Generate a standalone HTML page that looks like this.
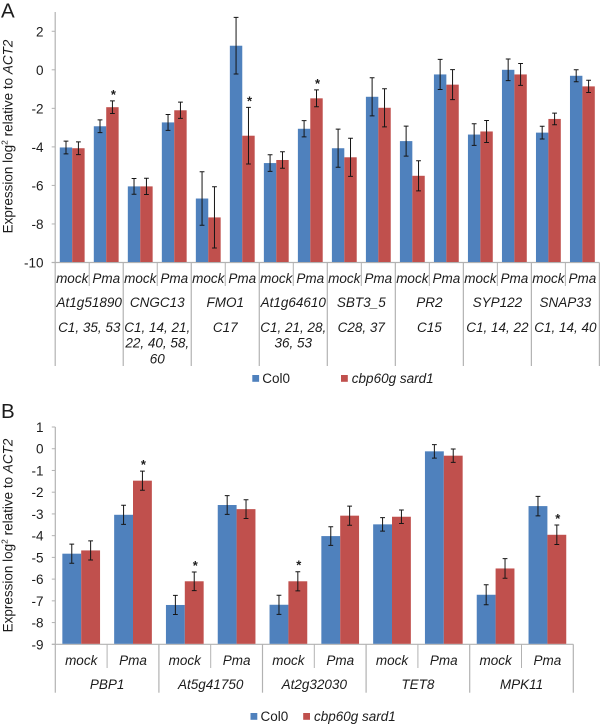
<!DOCTYPE html>
<html lang="en">
<head>
<meta charset="utf-8">
<title>Expression log2 relative to ACT2</title>
<style>
html,body{margin:0;padding:0;background:#fff;}
svg{display:block;font-family:"Liberation Sans",Arial,sans-serif;fill:#1c1c1c;}
</style>
</head>
<body>
<svg id="figure" xmlns="http://www.w3.org/2000/svg" width="600" height="724" viewBox="0 0 600 724"></svg>
<script>
// Panel A data
const genesA = ['At1g51890','CNGC13','FMO1','At1g64610','SBT3_5','PR2','SYP122','SNAP33'];
const cladesA = [['C1, 35, 53'],['C1, 14, 21,','22, 40, 58,','60'],['C17'],['C1, 21, 28,','36, 53'],['C28, 37'],['C15'],['C1, 14, 22'],['C1, 14, 40']];
const conditions = ['mock','Pma'];
const col0A = [-4.03,-2.93,-6.05,-2.73,-6.68,1.25,-4.84,-3.06,-4.07,-1.40,-3.70,-0.24,-3.36,0.00,-3.26,-0.31];
const sardA = [-4.07,-1.94,-6.05,-2.10,-7.66,-3.42,-4.68,-1.48,-4.54,-1.97,-5.50,-0.77,-3.20,-0.24,-2.55,-0.86];
const col0ErrA = [0.33,0.33,0.41,0.41,1.39,1.47,0.43,0.42,0.99,0.99,0.78,0.78,0.56,0.56,0.33,0.31];
const sardErrA = [0.33,0.33,0.42,0.42,1.59,1.47,0.43,0.44,0.99,0.99,0.78,0.78,0.57,0.57,0.30,0.32];
const starsA = [0,1,0,0,0,1,0,1,0,0,0,0,0,0,0,0];
const ticksA = [2,0,-2,-4,-6,-8,-10];

// Panel B data
const genesB = ['PBP1','At5g41750','At2g32030','TET8','MPK11'];
const cladesB = [[],[],[],[],[]];
const col0B = [-4.83,-3.04,-7.19,-2.59,-7.18,-4.02,-3.48,-0.12,-6.72,-2.64];
const sardB = [-4.68,-1.47,-6.10,-2.78,-6.10,-3.08,-3.13,-0.32,-5.51,-3.96];
const col0ErrB = [0.44,0.44,0.44,0.43,0.44,0.43,0.31,0.31,0.46,0.45];
const sardErrB = [0.44,0.44,0.43,0.43,0.44,0.44,0.31,0.31,0.45,0.45];
const starsB = [0,1,1,0,1,0,0,0,0,1];
const ticksB = [1,0,-1,-2,-3,-4,-5,-6,-7,-8,-9];

const SVGNS = 'http://www.w3.org/2000/svg';
const root = document.getElementById('figure');
const BLUE = '#4f81bd', RED = '#c0504d', AXIS = '#b2b2b2', FS = 13.5;

function mk(tag, attrs, parent) {
  const el = document.createElementNS(SVGNS, tag);
  for (const k in attrs) el.setAttribute(k, attrs[k]);
  (parent || root).appendChild(el);
  return el;
}

function drawPanel(c) {
  const g = mk('g', {});
  
  
  const n = c.col0.length;
  const catW = (c.right - c.left) / n;
  const y = v => c.bottom - (v - c.dMin) / (c.dMax - c.dMin) * (c.bottom - c.top);
  const x = i => c.left + catW * i;

  // panel letter
  const letter = mk('text', {x: 1, y: c.letterY, 'font-size': 20.5}, g);
  letter.textContent = c.id;
  
  

  // y axis title
  const title = mk('text', {transform: 'translate(' + c.titleX + ' ' + c.titleY + ') rotate(-90)', 'text-anchor': 'middle', 'font-size': FS}, g);
  
  
  mk('tspan', {}, title).textContent = 'Expression log';
  mk('tspan', {dy: -5, 'font-size': 8.5}, title).textContent = '2';
  mk('tspan', {dy: 5}, title).textContent = ' relative to ';
  mk('tspan', {'font-style': 'italic'}, title).textContent = 'ACT2';

  // y axis and ticks
  const yAxis = mk('line', {x1: c.left, x2: c.left, y1: c.top, y2: c.bottom, stroke: AXIS, 'stroke-width': 1.2}, g);
  
  
  c.ticks.forEach(t => {
    const tick = mk('line', {x1: c.left - 3.5, x2: c.left, y1: y(t), y2: y(t), stroke: AXIS, 'stroke-width': 1}, g);
    
    
    const lab = mk('text', {x: 43.5, y: y(t) + 5, 'text-anchor': 'end', 'font-size': FS}, g);
    lab.textContent = t;
    
    
  });

  // x axis and separators
  const xAxis = mk('line', {x1: c.left - 3.5, x2: c.right, y1: c.bottom, y2: c.bottom, stroke: AXIS, 'stroke-width': 1.2}, g);
  
  
  for (let i = 0; i <= n; i++) {
    const long = i % 2 === 0;
    const sep = mk('line', {x1: x(i), x2: x(i), y1: c.bottom, y2: long ? c.sepLong : c.sepShort, stroke: AXIS, 'stroke-width': long ? 1.2 : 1}, g);
    
    
  }

  // bars, error bars, significance stars
  const barW = catW * c.barFrac;
  const capHalf = c.cap;
  [[c.col0, c.col0Err, BLUE, 'col0', 0], [c.sard, c.sardErr, RED, 'cbp60g-sard1', 1]].forEach(s => {
    s[0].forEach((v, i) => {
      const bx = x(i) + catW / 2 - barW + s[4] * barW;
      const bar = mk('rect', {x: bx, y: y(v), width: barW, height: c.bottom - y(v) - 0.5, fill: s[2]}, g);
      
      
    });
  });
  [[c.col0, c.col0Err, 0], [c.sard, c.sardErr, 1]].forEach(s => {
    s[0].forEach((v, i) => {
      const cx = x(i) + catW / 2 - barW / 2 + s[2] * barW;
      const hi = y(v + s[1][i]), lo = y(v - s[1][i]);
      const err = mk('path', {d: 'M' + (cx - capHalf) + ' ' + hi + 'H' + (cx + capHalf) + 'M' + cx + ' ' + hi + 'V' + lo + 'M' + (cx - capHalf) + ' ' + lo + 'H' + (cx + capHalf), fill: 'none', stroke: '#151515', 'stroke-width': 1}, g);
      
      
    });
  });
  c.stars.forEach((on, i) => {
    if (!on) return;
    const cx = x(i) + catW / 2 + barW / 2 + 1;
    const top = y(c.sard[i] + c.sardErr[i]);
    const star = mk('text', {x: cx, y: top - 2, 'text-anchor': 'middle', 'font-size': 13, 'font-weight': 'bold'}, g);
    star.textContent = '*';
    
    
  });

  // category labels
  for (let i = 0; i < n; i++) {
    const lab = mk('text', {x: x(i) + catW / 2, y: c.condY, 'text-anchor': 'middle', 'font-size': FS, 'font-style': 'italic'}, g);
    lab.textContent = conditions[i % 2];
    
    
  }
  c.genes.forEach((name, k) => {
    const cx = x(k * 2) + catW;
    const lab = mk('text', {x: cx, y: c.geneY, 'text-anchor': 'middle', 'font-size': FS, 'font-style': 'italic'}, g);
    lab.textContent = name;
    
    
    c.clades[k].forEach((line, j) => {
      const cl = mk('text', {x: cx, y: c.cladeY + j * 15.7, 'text-anchor': 'middle', 'font-size': FS, 'font-style': 'italic'}, g);
      cl.textContent = line;
      
      
    });
  });

  // legend
  const lg = mk('g', {}, g);
  
  
  const sq1 = mk('rect', {x: c.lg1, y: c.lgY, width: 6.8, height: 6.8, fill: BLUE}, lg);
  
  
  const t1 = mk('text', {x: c.lg1 + 10, y: c.lgY + 8, 'font-size': FS}, lg);
  t1.textContent = 'Col0';
  
  
  const sq2 = mk('rect', {x: c.lg2, y: c.lgY, width: 6.8, height: 6.8, fill: RED}, lg);
  
  
  const t2 = mk('text', {x: c.lg2 + 10.8, y: c.lgY + 8, 'font-size': FS, 'font-style': 'italic'}, lg);
  t2.textContent = 'cbp60g sard1';
  
  
}

drawPanel({
  id: 'A', letterY: 17.5, titleX: 12.5, titleY: 136.5,
  left: 55.2, right: 599.4, top: 12, bottom: 262.5, dMin: -10, dMax: 3,
  sepShort: 286, sepLong: 366, condY: 283, geneY: 307, cladeY: 332,
  barFrac: 0.365, cap: 2.4, lg1: 252.3, lg2: 341, lgY: 375,
  genes: genesA, clades: cladesA, col0: col0A, sard: sardA, col0Err: col0ErrA, sardErr: sardErrA, stars: starsA, ticks: ticksA
});
drawPanel({
  id: 'B', letterY: 418, titleX: 12.5, titleY: 535.5,
  left: 55.3, right: 573.3, top: 427, bottom: 644.3, dMin: -9, dMax: 1,
  sepShort: 668, sepLong: 692.7, condY: 665, geneY: 689, cladeY: 0,
  barFrac: 0.364, cap: 2.4, lg1: 250.5, lg2: 303.2, lgY: 713,
  genes: genesB, clades: cladesB, col0: col0B, sard: sardB, col0Err: col0ErrB, sardErr: sardErrB, stars: starsB, ticks: ticksB
});
</script>
</body>
</html>
